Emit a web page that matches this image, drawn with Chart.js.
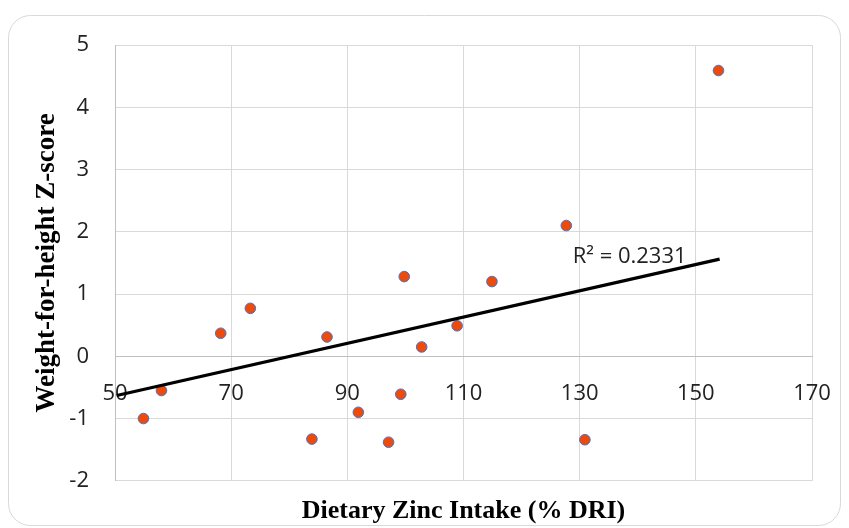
<!DOCTYPE html>
<html>
<head>
<meta charset="utf-8">
<script src="https://cdn.jsdelivr.net/npm/chart.js@4.4.1/dist/chart.umd.min.js"></script>
<style>
  html, body { margin: 0; padding: 0; background: #ffffff; }
  #wrap { width: 849px; height: 528px; position: relative; }
</style>
</head>
<body>
<div id="wrap"><canvas id="c" width="849" height="528"></canvas></div>
<script>
// Data
const zincIntake = [54.9, 58.0, 68.2, 73.3, 83.9, 86.5, 91.9, 97.1, 99.2, 99.8, 102.8, 108.9, 114.9, 127.7, 130.9, 153.9];
const whzScore   = [-1.00, -0.55, 0.37, 0.77, -1.33, 0.31, -0.90, -1.38, -0.61, 1.28, 0.15, 0.49, 1.20, 2.10, -1.34, 4.59];
const trendX = [50.3, 154.1];
const trendY = [-0.63, 1.56];
const r2Label = 'R\u00B2 = 0.2331';
const xTitle = 'Dietary Zinc Intake (% DRI)';
const yTitle = 'Weight-for-height Z-score';
const xRange = [50, 170];
const yRange = [-2, 5];

const points = zincIntake.map((x, i) => ({ x: x, y: whzScore[i] }));
const trend = trendX.map((x, i) => ({ x: x, y: trendY[i] }));

const framePlugin = {
  id: 'frame',
  beforeDraw(chart) {
    const ctx = chart.ctx;
    ctx.save();
    ctx.fillStyle = '#ffffff';
    ctx.fillRect(0, 0, chart.width, chart.height);
    const x = 8.5, y = 15.5, w = 832, h = 510, r = 22;
    ctx.beginPath();
    ctx.moveTo(x + r, y);
    ctx.lineTo(x + w - r, y);
    ctx.arcTo(x + w, y, x + w, y + r, r);
    ctx.lineTo(x + w, y + h - r);
    ctx.arcTo(x + w, y + h, x + w - r, y + h, r);
    ctx.lineTo(x + r, y + h);
    ctx.arcTo(x, y + h, x, y + h - r, r);
    ctx.lineTo(x, y + r);
    ctx.arcTo(x, y, x + r, y, r);
    ctx.closePath();
    ctx.strokeStyle = '#d9d9d9';
    ctx.lineWidth = 1;
    ctx.stroke();
    ctx.restore();
  }
};

const r2Plugin = {
  id: 'r2',
  afterDatasetsDraw(chart) {
    const ctx = chart.ctx;
    const xs = chart.scales.x, ys = chart.scales.y;
    ctx.save();
    ctx.font = '22px "Open Sans"';
    ctx.fillStyle = '#222222';
    ctx.textAlign = 'left';
    ctx.textBaseline = 'middle';
    ctx.fillText(r2Label, xs.getPixelForValue(128.8), ys.getPixelForValue(1.6));
    ctx.restore();
  }
};

new Chart(document.getElementById('c'), {
  type: 'scatter',
  data: {
    datasets: [
      {
        label: 'Trend',
        data: trend,
        showLine: true,
        borderColor: '#000000',
        borderWidth: 3.3,
        pointRadius: 0,
        fill: false
      },
      {
        label: 'WHZ',
        data: points,
        backgroundColor: '#ee4a0c',
        borderColor: '#4a72c4',
        borderWidth: 1,
        pointRadius: 5.3
      }
    ]
  },
  options: {
    responsive: false,
    animation: false,
    events: [],
    layout: { padding: { left: 0, top: 45, right: 37, bottom: 0 } },
    plugins: {
      legend: { display: false },
      tooltip: { enabled: false },
      title: {
        display: true,
        fullSize: false,
        position: 'bottom',
        text: xTitle,
        color: '#000000',
        font: { family: '"Liberation Serif", "Times New Roman", serif', size: 26, weight: 'bold' },
        padding: { top: 15, bottom: 1 }
      }
    },
    scales: {
      x: {
        type: 'linear',
        position: { y: 0 },
        min: xRange[0],
        max: xRange[1],
        afterFit(s) { s.height = 0; s.paddingLeft = 0; s.paddingRight = 0; },
        ticks: {
          stepSize: 20,
          padding: 24,
          color: '#222222',
          font: { family: '"Open Sans"', size: 22 }
        },
        grid: { color: '#d9d9d9', lineWidth: 1, drawTicks: false },
        border: { color: '#bfbfbf', width: 1 }
      },
      y: {
        type: 'linear',
        position: 'left',
        min: yRange[0],
        max: yRange[1],
        afterFit(s) { s.width = 115; s.paddingTop = 0; s.paddingBottom = 0; },
        ticks: {
          stepSize: 1,
          padding: 26,
          color: '#222222',
          font: { family: '"Open Sans"', size: 22 }
        },
        grid: { color: '#d9d9d9', lineWidth: 1, drawTicks: false },
        border: { color: '#bfbfbf', width: 1 },
        title: {
          display: true,
          text: yTitle,
          color: '#000000',
          font: { family: '"Liberation Serif", "Times New Roman", serif', size: 27, weight: 'bold' },
          padding: { top: 31, bottom: 0 }
        }
      }
    }
  },
  plugins: [framePlugin, r2Plugin]
});
</script>
</body>
</html>
